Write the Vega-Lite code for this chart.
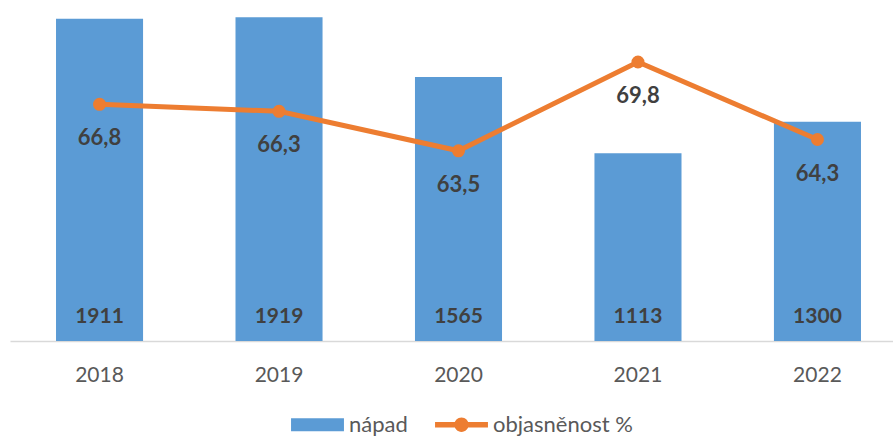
{
  "$schema": "https://vega.github.io/schema/vega-lite/v6.json",
  "width": 883,
  "height": 341,
  "autosize": {"type": "none"},
  "padding": {"left": 10, "top": 0, "right": 0, "bottom": 95},
  "config": {
    "view": {"stroke": null},
    "font": "Lato",
    "locale": {"number": {"decimal": ",", "thousands": " ", "grouping": [3], "currency": ["", " Kč"]}}
  },
  "data": {
    "values": [
      {"rok": "2018", "napad": 1911, "objasnenost": 66.8},
      {"rok": "2019", "napad": 1919, "objasnenost": 66.3},
      {"rok": "2020", "napad": 1565, "objasnenost": 63.5},
      {"rok": "2021", "napad": 1113, "objasnenost": 69.8},
      {"rok": "2022", "napad": 1300, "objasnenost": 64.3}
    ]
  },
  "encoding": {
    "x": {
      "field": "rok",
      "type": "ordinal",
      "scale": {"range": [0, 897], "paddingInner": 0.515, "paddingOuter": 0.2564},
      "axis": {
        "title": null,
        "ticks": false,
        "grid": false,
        "labelAngle": 0,
        "labelFont": "Lato",
        "labelFontSize": 21,
        "labelColor": "#595959",
        "labelPadding": 23,
        "domainColor": "#d9d9d9",
        "domainWidth": 1.5
      }
    }
  },
  "layer": [
    {
      "encoding": {
        "y": {"field": "napad", "type": "quantitative", "scale": {"domain": [0, 2022], "nice": false}, "axis": null}
      },
      "layer": [
        {
          "mark": {"type": "bar"},
          "encoding": {
            "color": {
              "datum": "nápad",
              "scale": {"domain": ["nápad", "objasněnost %"], "range": ["#5b9bd5", "#ed7d31"]},
              "legend": {
                "orient": "none",
                "legendX": 281,
                "legendY": 398,
                "direction": "horizontal",
                "title": null,
                "padding": 0,
                "labelFont": "Lato",
                "labelFontSize": 22,
                "labelColor": "#595959",
                "symbolSize": 2800,
                "columnPadding": 27,
                "labelOffset": 5,
                "encode": {
                  "symbols": {
                    "update": {
                      "shape": {"signal": "datum.value === 'nápad' ? 'M-1,-0.25H1V0.25H-1Z' : 'M-1,-0.1H1V0.1H-1Z M0.27,0A0.27,0.27 0 1,1 -0.27,0A0.27,0.27 0 1,1 0.27,0Z'"},
                      "fill": {"signal": "datum.value === 'nápad' ? '#5b9bd5' : '#ed7d31'"},
                      "stroke": {"value": "transparent"},
                      "strokeWidth": {"value": 0},
                      "opacity": {"value": 1},
                      "fillOpacity": {"value": 1},
                      "size": {"value": 2800}
                    }
                  }
                }
              }
            }
          }
        },
        {
          "mark": {"type": "text", "font": "Lato", "fontWeight": "bold", "fontSize": 21, "color": "#404040", "baseline": "middle", "dy": -24},
          "encoding": {
            "y": {"datum": 0},
            "text": {"field": "napad", "type": "quantitative", "format": "d"}
          }
        }
      ]
    },
    {
      "encoding": {
        "y": {"field": "objasnenost", "type": "quantitative", "scale": {"domain": [50, 74.2], "nice": false, "zero": false}, "axis": null}
      },
      "layer": [
        {
          "mark": {"type": "line", "strokeWidth": 5, "point": {"filled": true, "size": 170}},
          "encoding": {"color": {"datum": "objasněnost %"}}
        },
        {
          "mark": {"type": "text", "font": "Lato", "fontWeight": "bold", "fontSize": 22, "color": "#404040", "baseline": "middle", "dy": 34},
          "encoding": {
            "text": {"field": "objasnenost", "type": "quantitative", "format": ".1f"}
          }
        }
      ]
    }
  ],
  "resolve": {"scale": {"y": "independent"}}
}
